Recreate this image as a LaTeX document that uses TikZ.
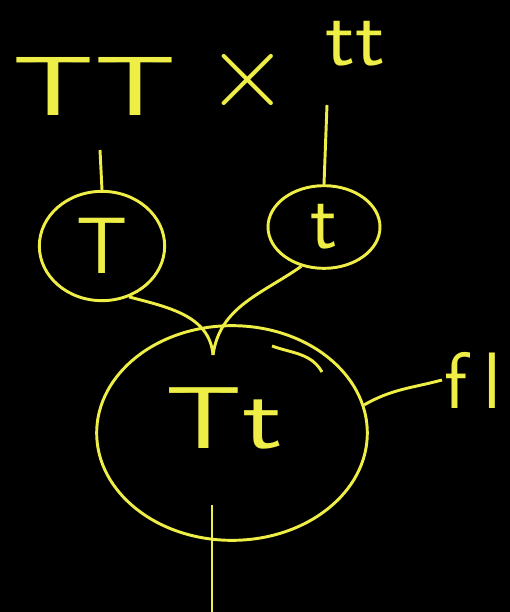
\documentclass[tikz,border=0pt]{standalone}
\usetikzlibrary{positioning,calc,shapes.geometric}
\definecolor{chalk}{RGB}{238,238,70}

\begin{document}
\begin{tikzpicture}[
        x=0.75pt, y=-0.75pt,
        line width=2.2pt, draw=chalk, text=chalk,
        every node/.style={font=\sffamily\fontsize{60}{60}\selectfont, text=chalk},
        bubble/.style={ellipse, draw=chalk, inner sep=0pt}
    ]
    \fill[black] (0,0) rectangle (510,612);
    \useasboundingbox (0,0) rectangle (510,612);

    % top row
    \node (cross1) at (95,86) {\scalebox{1.6}[1.05]{TT}};
    \node (times) at (248,80) {\scalebox{3.2}{$\times$}};
    \node (cross2) at (355,44) {\scalebox{1.1}[1]{tt}};

    % parents
    \node[bubble, minimum width=94pt, minimum height=82pt] (pT) at (102,246) {T};
    \node[bubble, minimum width=84pt, minimum height=62pt] (pt) at (324,227) {t};

    % offspring
    \node[bubble, minimum width=203pt, minimum height=161pt] (kid) at (232,433) {};
    \node (kidtxt) at (224,418) {\scalebox{1.5}[1.1]{Tt}};
    \node[anchor=west, inner sep=1pt] (gen) at (442,380) {f\kern12pt l};

    \coordinate (topT) at (100,150);
    \coordinate (topt) at (327,105);
    \coordinate (join) at (213,355);
    \coordinate (down) at (212,612);

    \draw (pT.north) -- (topT);
    \draw (pt.north) -- (topt);
    \draw (pT.-62) to[out=-15,in=95] (join);
    \draw (pt.-120) to[out=215,in=82] (join);
    \draw (272,346) to[out=-20,in=120] (322,372);
    \draw (kid.12) to[out=30,in=195] (gen.west);
    \draw (212,505) -- (down);
\end{tikzpicture}
\end{document}
